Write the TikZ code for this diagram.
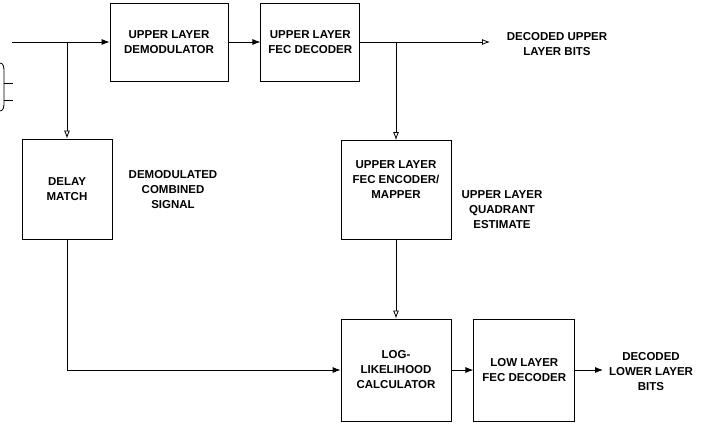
\documentclass[tikz,border=0pt]{standalone}
\usepackage{fontspec}
\setmainfont{Liberation Sans}
\usetikzlibrary{arrows.meta,positioning}
\tikzset{
  block/.style={rectangle, draw=black, line width=0.8pt, align=center,
    font=\fontsize{11.5}{15}\selectfont\bfseries, inner sep=2pt},
  lbl/.style={align=center, font=\fontsize{11.5}{15}\selectfont\bfseries, inner sep=1pt},
  sigline/.style={line width=0.8pt},
  fullarrow/.style={sigline, -{Latex[length=8pt,width=6pt]}},
  openarrow/.style={sigline, -{Latex[open,length=8pt,width=6pt]}}
}
\begin{document}
\begin{tikzpicture}[x=1pt,y=-1pt]
\useasboundingbox (0,0) rectangle (711,423);
% partial shape at the left edge
\draw[sigline] (0,63) to[out=0,in=90] (4,71) -- (4,103) to[out=-90,in=0] (0,111);
\draw[sigline] (4,83) -- (13,83);
\draw[sigline] (4,100) -- (13,100);
% blocks
\node[block, minimum width=118pt, minimum height=78pt] (demod) at (169,42) {UPPER LAYER\\DEMODULATOR};
\node[block, minimum width=99pt, minimum height=78pt, right=32pt of demod] (fecdec) {UPPER LAYER\\FEC DECODER};
\node[block, minimum width=90pt, minimum height=100pt] (dmatch) at (67,189) {DELAY\\MATCH};
\node[block, minimum width=110pt, minimum height=99pt] (enc) at (396,190) {UPPER LAYER\\FEC ENCODER/\\MAPPER\\[6pt]};
\node[block, minimum width=110pt, minimum height=102pt] (llr) at (396,370) {LOG-\\LIKELIHOOD\\CALCULATOR};
\node[block, minimum width=101pt, minimum height=102pt, right=22pt of llr] (lowfec) {LOW LAYER\\FEC DECODER};
% labels
\node[lbl] (dcomb) at (173,190) {DEMODULATED\\COMBINED\\SIGNAL};
\node[lbl] (quad) at (502,210) {UPPER LAYER\\QUADRANT\\ESTIMATE};
\node[lbl] (upbits) at (557,44) {DECODED UPPER\\LAYER BITS};
\node[lbl] (lowbits) at (651,372) {DECODED\\LOWER LAYER\\BITS};
% free ends
\coordinate (inp) at (12,42);
\coordinate (out1) at (490,42);
\coordinate (out2) at (603,370);
% connectors
\draw[fullarrow] (inp) -- (demod.west);
\draw[openarrow] (inp -| dmatch.north) -- (dmatch.north);
\draw[fullarrow] (demod) -- (fecdec);
\draw[openarrow] (fecdec.east) -- (out1);
\draw[openarrow] (fecdec.east -| enc.north) -- (enc.north);
\draw[openarrow] (enc) -- (llr);
\draw[fullarrow] (dmatch.south) |- (llr.west);
\draw[fullarrow] (llr) -- (lowfec);
\draw[fullarrow] (lowfec.east) -- (out2);
\end{tikzpicture}
\end{document}
